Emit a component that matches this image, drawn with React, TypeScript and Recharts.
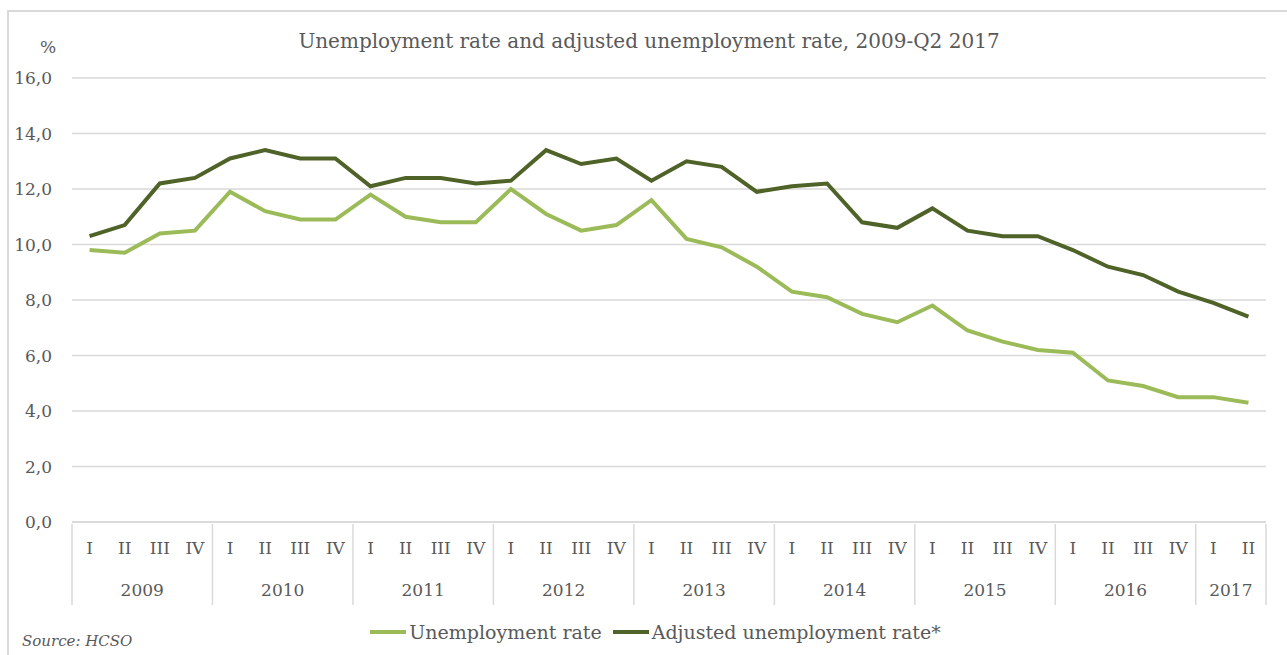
import React from 'react';
import { LineChart, Line, XAxis, YAxis, CartesianGrid, Legend } from 'recharts';

const years = ['2009', '2010', '2011', '2012', '2013', '2014', '2015', '2016', '2017'];
const quarterNames = ['I', 'II', 'III', 'IV'];
const quartersPerYear = [4, 4, 4, 4, 4, 4, 4, 4, 2];

const unemployment = [
  9.8, 9.7, 10.4, 10.5,
  11.9, 11.2, 10.9, 10.9,
  11.8, 11.0, 10.8, 10.8,
  12.0, 11.1, 10.5, 10.7,
  11.6, 10.2, 9.9, 9.2,
  8.3, 8.1, 7.5, 7.2,
  7.8, 6.9, 6.5, 6.2,
  6.1, 5.1, 4.9, 4.5,
  4.5, 4.3,
];

const adjusted = [
  10.3, 10.7, 12.2, 12.4,
  13.1, 13.4, 13.1, 13.1,
  12.1, 12.4, 12.4, 12.2,
  12.3, 13.4, 12.9, 13.1,
  12.3, 13.0, 12.8, 11.9,
  12.1, 12.2, 10.8, 10.6,
  11.3, 10.5, 10.3, 10.3,
  9.8, 9.2, 8.9, 8.3,
  7.9, 7.4,
];

const yTicks = [0, 2, 4, 6, 8, 10, 12, 14, 16];

const W = 1287;
const H = 655;
const M_LEFT = 72;
const M_RIGHT = 21;
const FONT = '"DejaVu Serif", "Liberation Serif", serif';
const TEXT = '#595959';
const GRID = '#d9d9d9';
const LIGHT = '#9bbb59';
const DARK = '#4f6228';
const Q_AXIS_H = 40;
const Y_AXIS_H = 41;

const data: any[] = [];
years.forEach((year, yi) => {
  for (let qi = 0; qi < quartersPerYear[yi]; qi++) {
    data.push({
      id: `${year}-${qi}`,
      year,
      yearIndex: yi,
      qi,
      q: quarterNames[qi],
      unemployment: unemployment[data.length],
      adjusted: adjusted[data.length],
    });
  }
});

// width of one quarter slot; half of it pads each end so points sit mid-slot
const BAND = (W - M_LEFT - M_RIGHT) / data.length;
const PAD = { left: BAND / 2, right: BAND / 2 };

const YearTick = (props: any) => {
  const { x, y, payload } = props;
  const row = data[payload.index];
  if (!row) return null;
  const left = x - BAND / 2;
  const n = quartersPerYear[row.yearIndex];
  const isLast = payload.index === data.length - 1;
  return (
    <g>
      {row.qi === 0 && (
        <line x1={left} x2={left} y1={y - Q_AXIS_H} y2={y + Y_AXIS_H} stroke={GRID} strokeWidth={1.5} />
      )}
      {isLast && (
        <line x1={x + BAND / 2} x2={x + BAND / 2} y1={y - Q_AXIS_H} y2={y + Y_AXIS_H} stroke={GRID} strokeWidth={1.5} />
      )}
      {row.qi === 0 && (
        <text x={left + (BAND * n) / 2} y={y + 32} textAnchor="middle" fill={TEXT} fontSize={17} fontFamily={FONT}>
          {row.year}
        </text>
      )}
    </g>
  );
};

const LegendContent = () => (
  <div style={{ display: 'flex', justifyContent: 'center', alignItems: 'center', fontFamily: FONT, fontSize: 19, color: TEXT, paddingLeft: 24 }}>
    <span style={{ display: 'inline-block', width: 36, height: 4, background: LIGHT, marginRight: 3 }} />
    <span style={{ marginRight: 11 }}>Unemployment rate</span>
    <span style={{ display: 'inline-block', width: 36, height: 4, background: DARK, marginRight: 3 }} />
    <span>Adjusted unemployment rate*</span>
  </div>
);

export default function App() {
  return (
    <div style={{ position: 'absolute', left: 0, top: 0, width: W, height: H, background: '#fff', overflow: 'hidden' }}>
      <div style={{ position: 'absolute', left: 7, top: 10, width: W, height: H, borderTop: `2px solid ${GRID}`, borderLeft: `2px solid ${GRID}` }} />
      <div style={{ position: 'absolute', left: 649, top: 29, transform: 'translateX(-50%)', whiteSpace: 'nowrap', fontFamily: FONT, fontSize: 20, color: TEXT }}>
        Unemployment rate and adjusted unemployment rate, 2009-Q2 2017
      </div>
      <div style={{ position: 'absolute', left: 40, top: 37, fontFamily: FONT, fontSize: 17, color: TEXT }}>%</div>
      <div style={{ position: 'absolute', left: 22, top: 632, fontFamily: FONT, fontSize: 15, fontStyle: 'italic', color: TEXT }}>
        Source: HCSO
      </div>
      <LineChart width={W} height={H} data={data} margin={{ top: 78, right: M_RIGHT, left: 0, bottom: 52 }}>
        <CartesianGrid vertical={false} stroke={GRID} strokeWidth={1.5} />
        <XAxis
          dataKey="q"
          interval={0}
          height={Q_AXIS_H}
          padding={PAD}
          tickSize={0}
          tickLine={false}
          tickMargin={20}
          axisLine={{ stroke: GRID, strokeWidth: 1.5 }}
          tick={{ fill: TEXT, fontSize: 17, fontFamily: FONT }}
        />
        <XAxis
          xAxisId="year"
          dataKey="id"
          interval={0}
          height={Y_AXIS_H}
          padding={PAD}
          tickSize={0}
          tickLine={false}
          axisLine={false}
          tick={<YearTick />}
        />
        <YAxis
          width={M_LEFT}
          domain={[0, 16]}
          ticks={yTicks}
          interval={0}
          tickSize={0}
          tickLine={false}
          axisLine={false}
          tickMargin={20}
          tickFormatter={(v: number) => v.toFixed(1).replace('.', ',')}
          tick={{ fill: TEXT, fontSize: 17, fontFamily: FONT }}
        />
        <Line dataKey="unemployment" name="Unemployment rate" stroke={LIGHT} strokeWidth={4} dot={false} isAnimationActive={false} />
        <Line dataKey="adjusted" name="Adjusted unemployment rate*" stroke={DARK} strokeWidth={4} dot={false} isAnimationActive={false} />
        <Legend
          layout="horizontal"
          verticalAlign="middle"
          align="center"
          wrapperStyle={{ top: 621, left: 0, width: W }}
          content={<LegendContent />}
        />
      </LineChart>
    </div>
  );
}
